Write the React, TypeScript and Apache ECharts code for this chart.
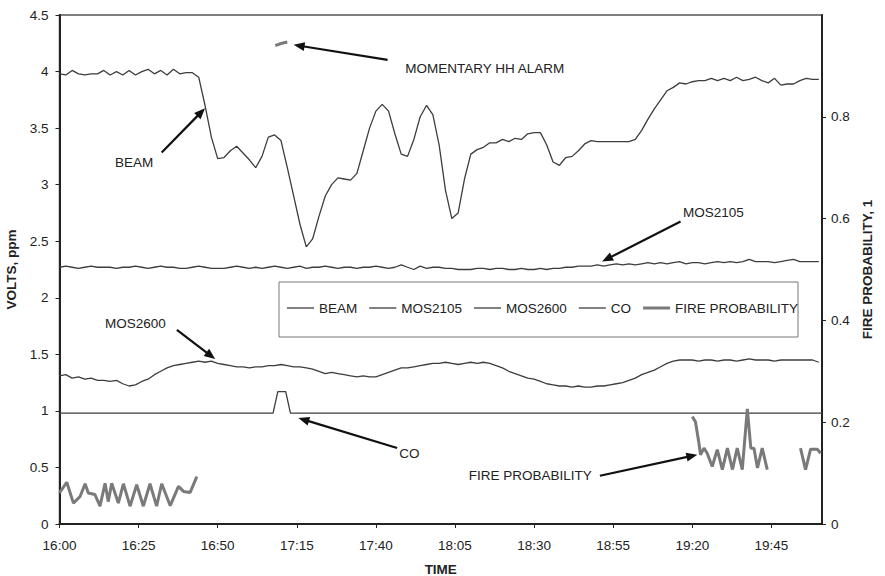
import React, { useEffect, useRef } from "react";
import * as echarts from "echarts";

// minutes after 16:00, sensor samples every 2 minutes
const STEP = 2;
const X_TICKS_EVERY = 25;

const BEAM = [
  3.98, 3.97, 4.01, 3.98, 3.97, 3.98, 3.98, 4.01, 3.97, 4.0, 3.97, 4.01, 3.97, 4.0, 4.02, 3.98, 4.01, 3.97, 4.02, 3.98,
  3.99, 3.99, 3.95, 3.7, 3.42, 3.23, 3.24, 3.3, 3.34, 3.28, 3.22, 3.15, 3.25, 3.42, 3.44, 3.39, 3.15, 2.9, 2.65, 2.45,
  2.52, 2.72, 2.9, 3.0, 3.06, 3.05, 3.04, 3.1, 3.3, 3.5, 3.65, 3.71, 3.65, 3.45, 3.27, 3.25, 3.4, 3.6, 3.7, 3.62,
  3.35, 2.95, 2.7, 2.75, 3.05, 3.27, 3.31, 3.33, 3.37, 3.37, 3.4, 3.38, 3.41, 3.4, 3.45, 3.46, 3.46, 3.35, 3.2, 3.17,
  3.24, 3.25, 3.3, 3.36, 3.39, 3.38, 3.38, 3.38, 3.38, 3.38, 3.38, 3.4, 3.48, 3.58, 3.67, 3.75, 3.83, 3.86, 3.9, 3.89,
  3.91, 3.92, 3.92, 3.94, 3.92, 3.94, 3.92, 3.95, 3.92, 3.93, 3.95, 3.92, 3.9, 3.94, 3.88, 3.89, 3.89, 3.92, 3.94, 3.93,
  3.93,
];

const MOS2105 = [
  2.27, 2.28, 2.27, 2.26, 2.27, 2.28, 2.27, 2.27, 2.27, 2.26, 2.27, 2.27, 2.28, 2.27, 2.26, 2.27, 2.28, 2.27, 2.27, 2.26,
  2.26, 2.27, 2.28, 2.27, 2.26, 2.26, 2.26, 2.27, 2.28, 2.27, 2.26, 2.27, 2.26, 2.27, 2.28, 2.27, 2.26, 2.27, 2.28, 2.26,
  2.27, 2.27, 2.28, 2.27, 2.26, 2.27, 2.27, 2.26, 2.27, 2.27, 2.28, 2.27, 2.26, 2.27, 2.29, 2.27, 2.25, 2.28, 2.26, 2.27,
  2.27, 2.26, 2.26, 2.25, 2.25, 2.25, 2.26, 2.26, 2.25, 2.26, 2.26, 2.25, 2.25, 2.26, 2.25, 2.25, 2.26, 2.25, 2.26, 2.26,
  2.27, 2.27, 2.28, 2.28, 2.28, 2.29, 2.28, 2.29, 2.3, 2.29, 2.3, 2.29, 2.3, 2.31, 2.3, 2.31, 2.3, 2.31, 2.32, 2.3,
  2.31, 2.31, 2.3, 2.31, 2.32, 2.31, 2.32, 2.31, 2.32, 2.34, 2.32, 2.32, 2.32, 2.31, 2.32, 2.33, 2.34, 2.32, 2.32, 2.32,
  2.32,
];

const MOS2600 = [
  1.31, 1.32, 1.29, 1.3, 1.28, 1.29, 1.27, 1.27, 1.26, 1.27, 1.24, 1.22, 1.23, 1.26, 1.28, 1.32, 1.35, 1.38, 1.4, 1.41,
  1.42, 1.43, 1.44, 1.43, 1.44, 1.42, 1.41, 1.4, 1.39, 1.39, 1.38, 1.39, 1.39, 1.4, 1.4, 1.41, 1.4, 1.39, 1.39, 1.38,
  1.37, 1.35, 1.33, 1.34, 1.33, 1.32, 1.31, 1.3, 1.31, 1.3, 1.3, 1.32, 1.34, 1.36, 1.38, 1.38, 1.39, 1.4, 1.41, 1.42,
  1.42, 1.43, 1.42, 1.41, 1.42, 1.43, 1.42, 1.43, 1.42, 1.4, 1.38, 1.35, 1.33, 1.31, 1.29, 1.28, 1.26, 1.24, 1.23, 1.22,
  1.22, 1.21, 1.22, 1.21, 1.21, 1.22, 1.22, 1.23, 1.24, 1.25, 1.27, 1.29, 1.32, 1.34, 1.36, 1.39, 1.42, 1.44, 1.45, 1.45,
  1.45, 1.44, 1.45, 1.45, 1.44, 1.45, 1.45, 1.44, 1.45, 1.46, 1.45, 1.45, 1.45, 1.44, 1.45, 1.45, 1.45, 1.45, 1.45, 1.45,
  1.43,
];

const CO_TIMES = [0, 67.5, 69, 71.5, 73, 241];
const CO_VALUES = [0.98, 0.98, 1.17, 1.17, 0.98, 0.98];

const FIRE_TIMES = [
  0, 2.3, 4.4, 6.5, 8.1, 9.1, 11.2, 12.8, 14.4, 15.4, 16.5, 18.6, 20.2, 22.3, 24.4, 26.5, 28.6, 30.7, 32.3, 35, 37.6,
  39.2, 41.3, 43.4, 44, 68.2, 70, 72, 73, 200, 201, 202.1, 202.6, 203.7, 204.7, 206.3, 207.9, 209.5, 211.1, 212.7, 214.2,
  215.8, 217.4, 218.5, 219.5, 220.6, 222.1, 223.7, 229, 234.2, 235.8, 237.4, 239.5, 240.6,
];
const FIRE_VALUES = [
  0.061, 0.082, 0.041, 0.054, 0.079, 0.061, 0.058, 0.035, 0.08, 0.044, 0.08, 0.041, 0.079, 0.035, 0.077, 0.035, 0.079,
  0.035, 0.079, 0.036, 0.074, 0.064, 0.062, 0.093, null, 0.94, 0.944, 0.947, null, 0.211, 0.201, 0.159, 0.136, 0.149,
  0.139, 0.113, 0.146, 0.107, 0.149, 0.107, 0.149, 0.107, 0.226, 0.149, 0.149, 0.11, 0.149, 0.107, null, 0.149, 0.107,
  0.147, 0.147, 0.139,
];

// annotations, in [minutes, volts]
const NOTES = [
  { text: "BEAM", at: [23.6, 3.2], align: "center" },
  { text: "MOMENTARY HH ALARM", at: [109.3, 4.024], align: "left" },
  { text: "MOS2105", at: [206.7, 2.757], align: "center" },
  { text: "MOS2600", at: [24, 1.776], align: "center" },
  { text: "CO", at: [107.4, 0.621], align: "left" },
  { text: "FIRE PROBABILITY", at: [148.8, 0.427], align: "center" },
];
const ARROWS = [
  { from: [32.3, 3.284], to: [46.0, 3.676] },
  { from: [103.7, 4.103], to: [74.0, 4.236] },
  { from: [196.3, 2.674], to: [171.5, 2.321] },
  { from: [37.1, 1.717], to: [49.2, 1.458] },
  { from: [106.7, 0.672], to: [75.5, 0.937] },
  { from: [170.8, 0.427], to: [201.6, 0.612] },
];

const FONT = "'Liberation Sans', Arial, sans-serif";
const LINE = "#3d3d3d";
const FIRE = "#7a7a7a";
const THIN_ICON = "path://M0,0M27,14M0,6.35h27v1.3h-27z";
const THICK_ICON = "path://M0,0M27,14M0,5.5h27v3h-27z";

const fmtTime = (m: number) => {
  const h = 16 + Math.floor(m / 60);
  const mm = Math.round(m % 60);
  return `${h}:${String(mm).padStart(2, "0")}`;
};

export default function App() {
  const ref = useRef<HTMLDivElement>(null);
  useEffect(() => {
    document.body.style.margin = "0";
    const chart = echarts.init(ref.current!, null, { renderer: "svg" });
    const lineSeries = (name: string, vals: number[]) => ({
      name,
      type: "line",
      data: vals.map((v, i) => [i * STEP, v]),
      symbol: "none",
      lineStyle: { color: LINE, width: 1.3 },
      itemStyle: { color: LINE },
    });
    chart.setOption({
      animation: false,
      textStyle: { fontFamily: FONT },
      grid: {
        left: 59.5,
        right: 63,
        top: 15,
        bottom: 52,
        containLabel: false,
        outerBoundsMode: "none",
        show: true,
        borderColor: "#555",
        borderWidth: 1.5,
      },
      legend: {
        left: 282,
        top: 296,
        itemWidth: 27,
        itemHeight: 14,
        itemGap: 12,
        textStyle: { fontSize: 13.5, color: "#222", fontFamily: FONT },
        data: [
          { name: "BEAM", icon: THIN_ICON },
          { name: "MOS2105", icon: THIN_ICON },
          { name: "MOS2600", icon: THIN_ICON },
          { name: "CO", icon: THIN_ICON },
          { name: "FIRE PROBABILITY", icon: THICK_ICON },
        ],
      },
      xAxis: {
        type: "value",
        min: 0,
        max: 241,
        interval: X_TICKS_EVERY,
        name: "TIME",
        nameLocation: "middle",
        nameGap: 38,
        nameTextStyle: { fontWeight: "bold", fontSize: 13.5, color: "#222" },
        axisLine: { lineStyle: { color: "#222", width: 2 } },
        axisTick: { length: 4, lineStyle: { color: "#222" } },
        axisLabel: {
          formatter: (v: number) => fmtTime(v),
          showMaxLabel: false,
          fontSize: 13.5,
          color: "#222",
          margin: 14,
        },
        splitLine: { show: false },
      },
      yAxis: [
        {
          type: "value",
          min: 0,
          max: 4.5,
          interval: 0.5,
          name: "VOLTS, ppm",
          nameLocation: "middle",
          nameRotate: 90,
          nameGap: 39,
          nameTextStyle: { fontWeight: "bold", fontSize: 13.5, color: "#222" },
          axisLine: { show: true, lineStyle: { color: "#222", width: 2 } },
          axisTick: { show: true, length: 4, lineStyle: { color: "#222" } },
          axisLabel: { fontSize: 13.5, color: "#222", margin: 11 },
          splitLine: { show: false },
        },
        {
          type: "value",
          min: 0,
          max: 1,
          interval: 0.2,
          position: "right",
          name: "FIRE PROBABILITY, 1",
          nameLocation: "middle",
          nameRotate: 90,
          nameGap: 31,
          nameTextStyle: { fontWeight: "bold", fontSize: 13.5, color: "#222" },
          axisLine: { show: true, lineStyle: { color: "#222", width: 2 } },
          axisTick: { show: true, length: 4, lineStyle: { color: "#222" } },
          axisLabel: { fontSize: 13.5, color: "#222", margin: 9, showMaxLabel: false },
          splitLine: { show: false },
        },
      ],
      series: [
        lineSeries("BEAM", BEAM),
        lineSeries("MOS2105", MOS2105),
        lineSeries("MOS2600", MOS2600),
        {
          name: "CO",
          type: "line",
          data: CO_TIMES.map((t, i) => [t, CO_VALUES[i]]),
          symbol: "none",
          lineStyle: { color: LINE, width: 1.3 },
          itemStyle: { color: LINE },
        },
        {
          name: "FIRE PROBABILITY",
          type: "line",
          yAxisIndex: 1,
          connectNulls: false,
          data: FIRE_TIMES.map((t, i) => [t, FIRE_VALUES[i] === null ? "-" : FIRE_VALUES[i]]),
          symbol: "none",
          lineStyle: { color: FIRE, width: 3 },
          itemStyle: { color: FIRE },
        },
      ],
    });

    const px = (p: number[]) => chart.convertToPixel({ gridIndex: 0 }, p) as number[];
    const graphics: any[] = [
      {
        type: "rect",
        shape: { x: 279, y: 282, width: 519, height: 55 },
        style: { fill: "none", stroke: "#777", lineWidth: 1 },
        silent: true,
      },
    ];
    NOTES.forEach((n) => {
      const [x, y] = px(n.at);
      graphics.push({
        type: "text",
        x,
        y,
        style: {
          text: n.text,
          fontSize: 13.5,
          fontFamily: FONT,
          fill: "#222",
          align: n.align,
          verticalAlign: "middle",
        },
      });
    });
    ARROWS.forEach((a) => {
      const [x1, y1] = px(a.from);
      const [x2, y2] = px(a.to);
      const dx = x2 - x1;
      const dy = y2 - y1;
      const len = Math.hypot(dx, dy);
      const ux = dx / len;
      const uy = dy / len;
      const hl = 11;
      const hw = 4.5;
      const bx = x2 - ux * hl;
      const by = y2 - uy * hl;
      graphics.push({
        type: "line",
        shape: { x1, y1, x2: bx + ux * 2, y2: by + uy * 2 },
        style: { stroke: "#111", lineWidth: 2.2 },
      });
      graphics.push({
        type: "polygon",
        shape: {
          points: [
            [x2, y2],
            [bx - uy * hw, by + ux * hw],
            [bx + uy * hw, by - ux * hw],
          ],
        },
        style: { fill: "#111" },
      });
    });
    chart.setOption({ graphic: graphics });
    return () => chart.dispose();
  }, []);
  return <div ref={ref} style={{ width: 885, height: 576 }} />;
}
